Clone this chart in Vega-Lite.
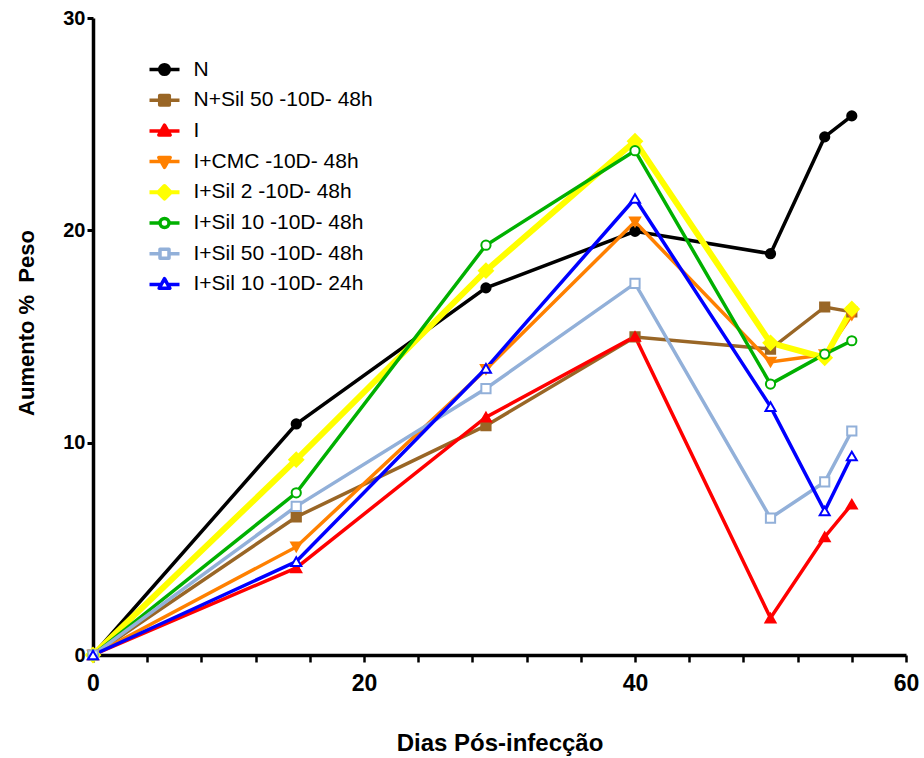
{
  "$schema": "https://vega.github.io/schema/vega-lite/v6.json",
  "width": 813,
  "height": 637,
  "autosize": {"type": "none"},
  "padding": {"left": 93, "top": 18, "right": 18, "bottom": 103},
  "background": "white",
  "config": {"view": {"stroke": null}, "font": "Liberation Sans"},
  "data": {
    "values": [
      {"series": "N", "day": 0, "value": 0},
      {"series": "N", "day": 15, "value": 10.88},
      {"series": "N", "day": 29, "value": 17.29},
      {"series": "N", "day": 40, "value": 19.95},
      {"series": "N", "day": 50, "value": 18.9},
      {"series": "N", "day": 54, "value": 24.4},
      {"series": "N", "day": 56, "value": 25.39},
      {"series": "N+Sil 50 -10D- 48h", "day": 0, "value": 0},
      {"series": "N+Sil 50 -10D- 48h", "day": 15, "value": 6.5},
      {"series": "N+Sil 50 -10D- 48h", "day": 29, "value": 10.8},
      {"series": "N+Sil 50 -10D- 48h", "day": 40, "value": 14.98},
      {"series": "N+Sil 50 -10D- 48h", "day": 50, "value": 14.41},
      {"series": "N+Sil 50 -10D- 48h", "day": 54, "value": 16.39},
      {"series": "N+Sil 50 -10D- 48h", "day": 56, "value": 16.16},
      {"series": "I", "day": 0, "value": 0},
      {"series": "I", "day": 15, "value": 4.1},
      {"series": "I", "day": 29, "value": 11.2},
      {"series": "I", "day": 40, "value": 15.0},
      {"series": "I", "day": 50, "value": 1.74},
      {"series": "I", "day": 54, "value": 5.56},
      {"series": "I", "day": 56, "value": 7.1},
      {"series": "I+CMC -10D- 48h", "day": 0, "value": 0},
      {"series": "I+CMC -10D- 48h", "day": 15, "value": 5.09},
      {"series": "I+CMC -10D- 48h", "day": 29, "value": 13.45},
      {"series": "I+CMC -10D- 48h", "day": 40, "value": 20.4},
      {"series": "I+CMC -10D- 48h", "day": 50, "value": 13.8},
      {"series": "I+CMC -10D- 48h", "day": 54, "value": 14.15},
      {"series": "I+CMC -10D- 48h", "day": 56, "value": 16.0},
      {"series": "I+Sil 2 -10D- 48h", "day": 0, "value": 0},
      {"series": "I+Sil 2 -10D- 48h", "day": 15, "value": 9.2},
      {"series": "I+Sil 2 -10D- 48h", "day": 29, "value": 18.1},
      {"series": "I+Sil 2 -10D- 48h", "day": 40, "value": 24.2},
      {"series": "I+Sil 2 -10D- 48h", "day": 50, "value": 14.7},
      {"series": "I+Sil 2 -10D- 48h", "day": 54, "value": 14.0},
      {"series": "I+Sil 2 -10D- 48h", "day": 56, "value": 16.3},
      {"series": "I+Sil 10 -10D- 48h", "day": 0, "value": 0},
      {"series": "I+Sil 10 -10D- 48h", "day": 15, "value": 7.64},
      {"series": "I+Sil 10 -10D- 48h", "day": 29, "value": 19.3},
      {"series": "I+Sil 10 -10D- 48h", "day": 40, "value": 23.75},
      {"series": "I+Sil 10 -10D- 48h", "day": 50, "value": 12.76},
      {"series": "I+Sil 10 -10D- 48h", "day": 54, "value": 14.17},
      {"series": "I+Sil 10 -10D- 48h", "day": 56, "value": 14.8},
      {"series": "I+Sil 50 -10D- 48h", "day": 0, "value": 0},
      {"series": "I+Sil 50 -10D- 48h", "day": 15, "value": 7.0},
      {"series": "I+Sil 50 -10D- 48h", "day": 29, "value": 12.55},
      {"series": "I+Sil 50 -10D- 48h", "day": 40, "value": 17.5},
      {"series": "I+Sil 50 -10D- 48h", "day": 50, "value": 6.45},
      {"series": "I+Sil 50 -10D- 48h", "day": 54, "value": 8.15},
      {"series": "I+Sil 50 -10D- 48h", "day": 56, "value": 10.55},
      {"series": "I+Sil 10 -10D- 24h", "day": 0, "value": 0},
      {"series": "I+Sil 10 -10D- 24h", "day": 15, "value": 4.4},
      {"series": "I+Sil 10 -10D- 24h", "day": 29, "value": 13.5},
      {"series": "I+Sil 10 -10D- 24h", "day": 40, "value": 21.5},
      {"series": "I+Sil 10 -10D- 24h", "day": 50, "value": 11.7},
      {"series": "I+Sil 10 -10D- 24h", "day": 54, "value": 6.78},
      {"series": "I+Sil 10 -10D- 24h", "day": 56, "value": 9.37}
    ]
  },
  "encoding": {
    "x": {
      "field": "day",
      "type": "quantitative",
      "scale": {"domain": [0, 60], "nice": false},
      "axis": {
        "title": "Dias Pós-infecção",
        "values": [0, 4, 8, 12, 16, 20, 24, 28, 32, 36, 40, 44, 48, 52, 56, 60],
        "labelExpr": "datum.value % 20 === 0 ? datum.label : ''",
        "labelOverlap": false,
        "labelFlush": false,
        "grid": false,
        "domainColor": "black",
        "domainWidth": 3.5,
        "tickColor": "black",
        "tickWidth": 2.5,
        "tickSize": 7,
        "labelFont": "Liberation Sans",
        "labelFontWeight": "bold",
        "labelFontSize": 23,
        "labelColor": "black",
        "labelBaseline": "alphabetic",
        "labelPadding": 28,
        "titleFont": "Liberation Sans",
        "titleFontWeight": "bold",
        "titleFontSize": 24,
        "titleColor": "black",
        "titleBaseline": "alphabetic",
        "titleY": 95,
        "encode": {
          "ticks": {"y2": {"value": {"expr": "datum.value % 20 === 0 ? 7 : 4"}}}
        }
      }
    },
    "y": {
      "field": "value",
      "type": "quantitative",
      "scale": {"domain": [0, 30], "nice": false},
      "axis": {
        "title": "Aumento %\u00a0 Peso",
        "values": [0, 10, 20, 30],
        "grid": false,
        "domainColor": "black",
        "domainWidth": 3.5,
        "tickColor": "black",
        "tickWidth": 3,
        "tickSize": 6,
        "labelFont": "Liberation Sans",
        "labelFontWeight": "bold",
        "labelFontSize": 20,
        "labelColor": "black",
        "labelPadding": 2,
        "titleFont": "Liberation Sans",
        "titleFontWeight": "bold",
        "titleFontSize": 22,
        "titleColor": "black",
        "titleBaseline": "alphabetic",
        "titleAlign": "center",
        "titleX": -60,
        "titleY": 304.5
      }
    }
  },
  "layer": [
    {
      "mark": {"type": "line", "strokeJoin": "miter"},
      "encoding": {
        "color": {
          "field": "series",
          "type": "nominal",
          "scale": {
            "domain": ["N", "N+Sil 50 -10D- 48h", "I", "I+CMC -10D- 48h", "I+Sil 2 -10D- 48h", "I+Sil 10 -10D- 48h", "I+Sil 50 -10D- 48h", "I+Sil 10 -10D- 24h"],
            "range": ["#000000", "#996626", "#FF0000", "#FF8000", "#FFFF00", "#00B000", "#92B0D9", "#0000FF"]
          },
          "legend": {
            "title": null,
            "orient": "none",
            "legendX": 61,
            "legendY": 41,
            "padding": 0,
            "symbolSize": 900,
            "rowPadding": 8.7,
            "labelOffset": 18.5,
            "labelFont": "Liberation Sans",
            "labelFontSize": 21,
            "labelColor": "black",
            "labelLimit": 400,
            "encode": {
              "symbols": {
                "update": {
                  "shape": {"signal": "['M-1,0L1,0M-0.32,0A0.32,0.32 0 1,1 0.32,0A0.32,0.32 0 1,1 -0.32,0Z','M-1,0L1,0M-0.32,-0.32L0.32,-0.32L0.32,0.32L-0.32,0.32Z','M-1,0L1,0M0,-0.38L0.38,0.28L-0.38,0.28Z','M-1,0L1,0M0,0.38L0.38,-0.28L-0.38,-0.28Z','M-1,0L1,0M0,-0.42L0.42,0L0,0.42L-0.42,0Z','M-1,0L-0.3,0M0.3,0L1,0M-0.3,0A0.3,0.3 0 1,1 0.3,0A0.3,0.3 0 1,1 -0.3,0Z','M-1,0L-0.3,0M0.3,0L1,0M-0.3,-0.3L0.3,-0.3L0.3,0.3L-0.3,0.3Z','M-1,0L-0.22,0M0.22,0L1,0M0,-0.38L0.36,0.26L-0.36,0.26Z'][indexof(['N','N+Sil 50 -10D- 48h','I','I+CMC -10D- 48h','I+Sil 2 -10D- 48h','I+Sil 10 -10D- 48h','I+Sil 50 -10D- 48h','I+Sil 10 -10D- 24h'], datum.value)]"},
                  "fill": {"signal": "scale('fill', datum.value)"},
                  "strokeWidth": {"signal": "datum.value === 'I+Sil 2 -10D- 48h' ? 4 : 3.5"},
                  "strokeJoin": {"value": "round"},
                  "size": {"value": 900},
                  "opacity": {"value": 1}
                }
              }
            }
          }
        },
        "strokeWidth": {
          "condition": {"test": "datum.series === 'I+Sil 2 -10D- 48h'", "value": 6},
          "value": 3.5
        }
      }
    },
    {
      "mark": {"type": "point", "opacity": 1, "strokeWidth": 2, "filled": true},
      "encoding": {
        "shape": {
          "field": "series",
          "type": "nominal",
          "scale": {
            "domain": ["I+Sil 10 -10D- 24h", "I+Sil 50 -10D- 48h", "I+Sil 10 -10D- 48h", "I+Sil 2 -10D- 48h", "I+CMC -10D- 48h", "I", "N+Sil 50 -10D- 48h", "N"],
            "range": ["triangle-up", "square", "circle", "diamond", "triangle-down", "triangle-up", "square", "circle"]
          },
          "legend": null
        },
        "stroke": {
          "field": "series",
          "type": "nominal",
          "scale": {
            "domain": ["I+Sil 10 -10D- 24h", "I+Sil 50 -10D- 48h", "I+Sil 10 -10D- 48h", "I+Sil 2 -10D- 48h", "I+CMC -10D- 48h", "I", "N+Sil 50 -10D- 48h", "N"],
            "range": ["#0000FF", "#92B0D9", "#00B000", "#FFFF00", "#FF8000", "#FF0000", "#996626", "#000000"]
          },
          "legend": null
        },
        "fill": {
          "field": "series",
          "type": "nominal",
          "scale": {
            "domain": ["I+Sil 10 -10D- 24h", "I+Sil 50 -10D- 48h", "I+Sil 10 -10D- 48h", "I+Sil 2 -10D- 48h", "I+CMC -10D- 48h", "I", "N+Sil 50 -10D- 48h", "N"],
            "range": ["#FFFFFF", "#FFFFFF", "#FFFFFF", "#FFFF00", "#FF8000", "#FF0000", "#996626", "#000000"]
          },
          "legend": null
        },
        "size": {
          "condition": [
            {"test": "datum.series === 'I+Sil 2 -10D- 48h'", "value": 196},
            {"test": "indexof(['I','I+CMC -10D- 48h','I+Sil 10 -10D- 24h'], datum.series) >= 0", "value": 100}
          ],
          "value": 85
        }
      }
    }
  ]
}
